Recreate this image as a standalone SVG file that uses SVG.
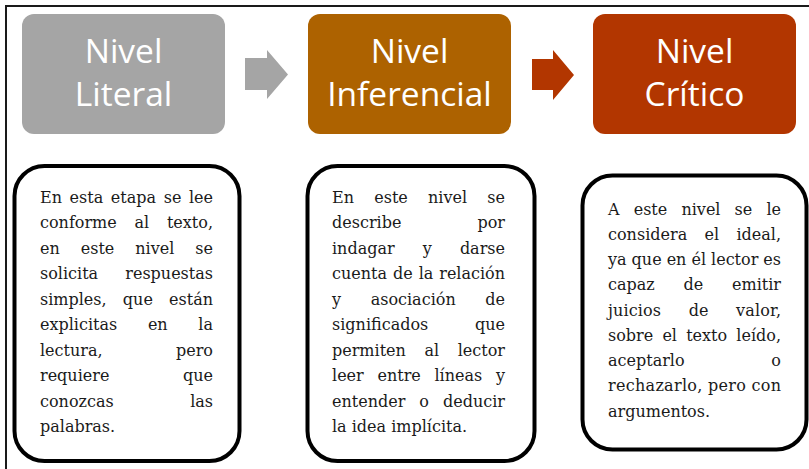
<svg xmlns="http://www.w3.org/2000/svg" width="809" height="469" viewBox="0 0 809 469">
<style>
.head{font-family:"Open Sans","Liberation Sans",sans-serif;font-size:33.5px;fill:#ffffff;text-anchor:middle}
.body{font-family:"DejaVu Serif","Liberation Serif",serif;font-size:16px;fill:#1a1a1a}
.end{text-anchor:end}
.card{fill:#ffffff;stroke:#000000;stroke-width:4}
</style>
<rect x="0" y="0" width="809" height="469" fill="#ffffff"/>
<path d="M6 469 V6 H809" fill="none" stroke="#1a1a1a" stroke-width="2"/>

<g id="connectors">
  <polygon points="245,58 267,58 267,50 288,74.5 267,99 267,90 245,90" fill="#a5a5a5"/>
  <polygon points="532,59 553,59 553,50 574,75 553,100 553,90 532,90" fill="#b23600"/>
</g>

<g id="nivel-literal">
  <rect x="22" y="14" width="203" height="120" rx="12" fill="#a5a5a5"/>
  <text class="head" x="123.5" y="63">Nivel</text>
  <text class="head" x="123.5" y="106">Literal</text>
</g>
<g id="nivel-inferencial">
  <rect x="308" y="14" width="203" height="120" rx="12" fill="#ad6200"/>
  <text class="head" x="409.5" y="63">Nivel</text>
  <text class="head" x="409.5" y="106">Inferencial</text>
</g>
<g id="nivel-critico">
  <rect x="593" y="14" width="203" height="120" rx="12" fill="#b23600"/>
  <text class="head" x="694.5" y="63">Nivel</text>
  <text class="head" x="694.5" y="106">Crítico</text>
</g>

<g id="desc-literal">
  <rect class="card" x="14.5" y="166" width="225" height="295" rx="30"/>
  <text class="body" x="40" y="202.5" word-spacing="2.5" textLength="173" lengthAdjust="spacing">En esta etapa se lee</text>
  <text class="body" x="40" y="228" word-spacing="12.7" textLength="173" lengthAdjust="spacing">conforme al texto,</text>
  <text class="body" x="40" y="253.5" word-spacing="15.9" textLength="173" lengthAdjust="spacing">en este nivel se</text>
  <text class="body" x="40" y="279">solicita</text><text class="body end" x="213" y="279">respuestas</text>
  <text class="body" x="40" y="304.5" word-spacing="11.1" textLength="173" lengthAdjust="spacing">simples, que están</text>
  <text class="body" x="40" y="330" word-spacing="25.6" textLength="173" lengthAdjust="spacing">explicitas en la</text>
  <text class="body" x="40" y="355.5">lectura,</text><text class="body end" x="213" y="355.5">pero</text>
  <text class="body" x="40" y="381">requiere</text><text class="body end" x="213" y="381">que</text>
  <text class="body" x="40" y="406.5">conozcas</text><text class="body end" x="213" y="406.5">las</text>
  <text class="body" x="40" y="432">palabras.</text>
</g>

<g id="desc-inferencial">
  <rect class="card" x="307.5" y="166" width="227" height="295" rx="30"/>
  <text class="body" x="332" y="202.5" word-spacing="15.1" textLength="173" lengthAdjust="spacing">En este nivel se</text>
  <text class="body" x="332" y="228">describe</text><text class="body end" x="505" y="228">por</text>
  <text class="body" x="332" y="253.5" word-spacing="23" textLength="173" lengthAdjust="spacing">indagar y darse</text>
  <text class="body" x="332" y="279" word-spacing="0.9" textLength="173" lengthAdjust="spacing">cuenta de la relación</text>
  <text class="body" x="332" y="304.5" word-spacing="24.5" textLength="173" lengthAdjust="spacing">y asociación de</text>
  <text class="body" x="332" y="330">significados</text><text class="body end" x="505" y="330">que</text>
  <text class="body" x="332" y="355.5" word-spacing="13.5" textLength="173" lengthAdjust="spacing">permiten al lector</text>
  <text class="body" x="332" y="381" word-spacing="8.6" textLength="173" lengthAdjust="spacing">leer entre líneas y</text>
  <text class="body" x="332" y="406.5" word-spacing="8.9" textLength="173" lengthAdjust="spacing">entender o deducir</text>
  <text class="body" x="332" y="432">la idea implícita.</text>
</g>

<g id="desc-critico">
  <rect class="card" x="582.5" y="175.5" width="224" height="274" rx="30"/>
  <text class="body" x="608" y="214.5" word-spacing="9" textLength="173" lengthAdjust="spacing">A este nivel se le</text>
  <text class="body" x="608" y="239.75" word-spacing="12.2" textLength="173" lengthAdjust="spacing">considera el ideal,</text>
  <text class="body" x="608" y="265" textLength="173" lengthAdjust="spacing">ya que en él lector es</text>
  <text class="body" x="608" y="290.25" word-spacing="23.7" textLength="173" lengthAdjust="spacing">capaz de emitir</text>
  <text class="body" x="608" y="315.5" word-spacing="22.3" textLength="173" lengthAdjust="spacing">juicios de valor,</text>
  <text class="body" x="608" y="340.75" word-spacing="4.1" textLength="173" lengthAdjust="spacing">sobre el texto leído,</text>
  <text class="body" x="608" y="366">aceptarlo</text><text class="body end" x="781" y="366">o</text>
  <text class="body" x="608" y="391.25" textLength="173" lengthAdjust="spacing">rechazarlo, pero con</text>
  <text class="body" x="608" y="416.5">argumentos.</text>
</g>
</svg>
